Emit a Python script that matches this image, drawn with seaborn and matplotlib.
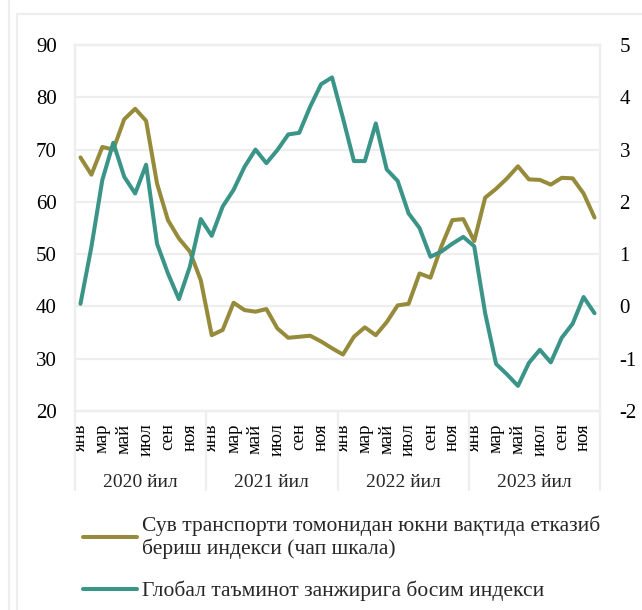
import numpy as np
import pandas as pd
import matplotlib
matplotlib.use("Agg")
import matplotlib.pyplot as plt
import matplotlib.transforms as mtransforms
from matplotlib.lines import Line2D
from matplotlib.patches import Rectangle
import seaborn as sns

# ---------------- data ----------------
years = ["2020 йил", "2021 йил", "2022 йил", "2023 йил"]
month_labels = ["янв", "мар", "май", "июл", "сен", "ноя"]

shipping = [68.5, 65.2, 70.5, 70.0, 75.8, 77.8, 75.5, 63.5, 56.5, 53.0, 50.5, 45.0,
            34.5, 35.5, 40.7, 39.3, 39.0, 39.5, 35.8, 34.0, 34.2, 34.4, 33.3, 32.0,
            30.8, 34.2, 36.0, 34.5, 37.0, 40.2, 40.5, 46.3, 45.5, 51.5, 56.5, 56.7,
            52.5, 60.8, 62.5, 64.5, 66.8, 64.3, 64.2, 63.3, 64.6, 64.5, 61.6, 57.0]

gscpi = [0.05, 1.14, 2.42, 3.13, 2.48, 2.16, 2.71, 1.20, 0.63, 0.14, 0.76, 1.67,
         1.35, 1.91, 2.23, 2.67, 3.00, 2.74, 2.99, 3.29, 3.32, 3.82, 4.25, 4.38,
         3.60, 2.78, 2.78, 3.50, 2.62, 2.40, 1.78, 1.50, 0.95, 1.05, 1.20, 1.33,
         1.15, -0.13, -1.10, -1.30, -1.52, -1.08, -0.83, -1.07, -0.60, -0.33, 0.18, -0.13]

shipping_label = "Сув транспорти томонидан юкни вақтида етказиб\nбериш индекси (чап шкала)"
gscpi_label = "Глобал таъминот занжирига босим индекси"

left_ticks = [20, 30, 40, 50, 60, 70, 80, 90]
right_ticks = [-2, -1, 0, 1, 2, 3, 4, 5]

# ---------------- style ----------------
OLIVE = "#968B3B"
TEAL = "#3B9488"
GRID = "#EEEEEE"

sns.set_theme(style="white")
plt.rcParams["font.family"] = ["Liberation Serif", "DejaVu Serif"]
plt.rcParams["axes.unicode_minus"] = False

W, H = 642, 610
fig = plt.figure(figsize=(W / 100, H / 100), dpi=100)
fig.patch.set_facecolor("white")

# outer chart frame (light grey)
fig.add_artist(Line2D([8.7 / W, 8.7 / W], [0, 1], transform=fig.transFigure,
                      color=GRID, lw=1.6))
fig.add_artist(Rectangle((16.7 / W, -0.01), 1.0, 1 - 14 / H + 0.01, transform=fig.transFigure,
                         fill=False, ec=GRID, lw=1.6))

ax = fig.add_axes([75 / W, 1 - 411 / H, 525 / W, 366 / H])
ax2 = ax.twinx()

df = pd.DataFrame({"m": np.arange(len(shipping)), "ship": shipping, "gscpi": gscpi})
sns.lineplot(data=df, x="m", y="ship", ax=ax, color=OLIVE, lw=2.9, legend=False)
sns.lineplot(data=df, x="m", y="gscpi", ax=ax2, color=TEAL, lw=2.9, legend=False)
l1 = ax.get_lines()[0]
l2 = ax2.get_lines()[0]
for ln in (l1, l2):
    ln.set_solid_capstyle("round")
    ln.set_solid_joinstyle("round")

ax.set_xlim(-0.5, len(shipping) - 0.5)
ax.set_ylim(20, 90)
ax2.set_ylim(-2, 5)
ax.set_yticks(left_ticks)
ax2.set_yticks(right_ticks)
ax.set_yticklabels([str(t) for t in left_ticks])
ax2.set_yticklabels([str(t) for t in right_ticks])
ax.set_xlabel(""); ax.set_ylabel(""); ax2.set_ylabel(""); ax2.set_xlabel("")

ax.yaxis.grid(True, color=GRID, lw=1.6)
ax.set_axisbelow(True)
for a in (ax, ax2):
    for s in a.spines.values():
        s.set_color(GRID)
        s.set_linewidth(1.6)

ax.tick_params(axis="y", length=0, pad=13, labelsize=15, colors="black")
ax2.tick_params(axis="y", length=0, pad=14, labelsize=15, colors="black")
ax2.tick_params(axis="x", length=0)

xt = list(range(0, len(shipping), 2))
ax.set_xticks(xt)
ax.set_xticklabels(month_labels * len(years), rotation=90, fontsize=13.5)
ax.tick_params(axis="x", length=0, pad=9, colors="black")

trans = mtransforms.blended_transform_factory(ax.transData, ax.transAxes)
for k in range(len(years) + 1):
    b = -0.5 + 12 * k
    ax.plot([b, b], [0, -0.216], transform=trans, color=GRID, lw=1.6, clip_on=False)
for k, yl in enumerate(years):
    ax.text(5.5 + 12 * k, -0.194, yl, transform=trans, ha="center", va="center", fontsize=14)

l1.set_label(shipping_label)
l2.set_label(gscpi_label)
fig.legend(handles=[l1, l2], loc="upper left", bbox_to_anchor=(83 / W, 1 - 515 / H),
           frameon=False, fontsize=15.5, handlelength=2.5, handletextpad=0.25,
           labelspacing=1.0, borderpad=0, borderaxespad=0)

fig.savefig("out.png", dpi=100)
